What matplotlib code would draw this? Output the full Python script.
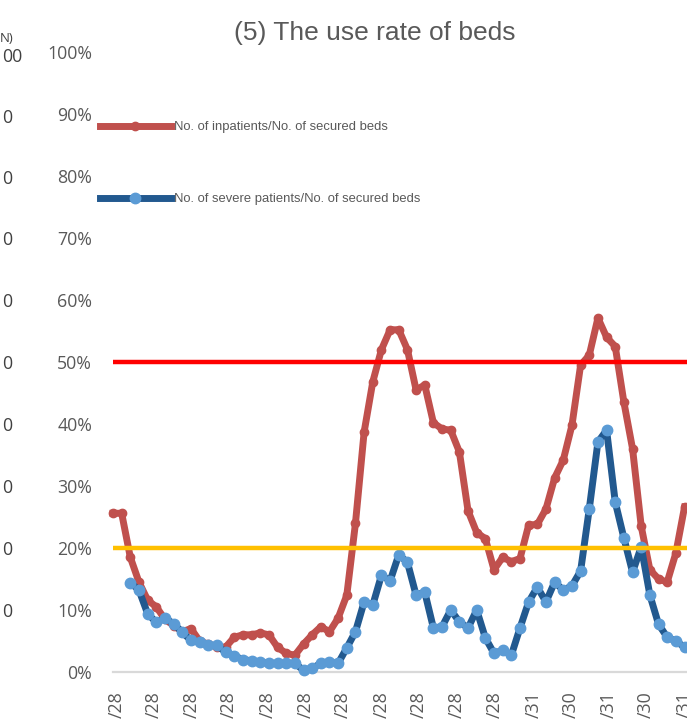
import matplotlib.pyplot as plt
import matplotlib.ticker as mticker
import numpy as np
import pandas as pd

# weekly values, % of secured beds
weeks = pd.date_range('2020-04-25', periods=67, freq='7D')
inpatients = [
    25.6, 25.6, 18.5, 14.5, 11.6, 10.5, 8.5, 7.5, 6.5, 7.0,
    5.0, 4.5, 4.0, 4.0, 5.6, 6.0, 6.0, 6.3, 6.0, 4.0,
    3.0, 2.7, 4.5, 6.0, 7.3, 6.5, 8.7, 12.4, 24.0, 38.7,
    46.8, 52.0, 55.2, 55.2, 52.0, 45.5, 46.3, 40.2, 39.2, 39.0,
    35.5, 26.0, 22.5, 21.5, 16.5, 18.5, 17.8, 18.3, 23.7, 23.8,
    26.3, 31.3, 34.2, 39.8, 49.5, 51.1, 57.1, 54.0, 52.5, 43.5,
    36.0, 23.5, 16.5, 15.0, 14.5, 19.2, 26.6,
]
severe = [
    np.nan, np.nan, 14.4, 13.2, 9.4, 8.0, 8.7, 7.8, 6.4, 5.1,
    4.8, 4.3, 4.3, 3.2, 2.6, 2.0, 1.8, 1.6, 1.4, 1.4,
    1.4, 1.4, 0.3, 0.6, 1.4, 1.6, 1.4, 3.9, 6.5, 11.3,
    10.8, 15.6, 14.7, 18.9, 17.7, 12.4, 12.9, 7.1, 7.3, 10.0,
    8.1, 7.1, 10.0, 5.5, 3.0, 3.5, 2.7, 7.1, 11.3, 13.7,
    11.3, 14.5, 13.2, 13.9, 16.3, 26.3, 37.1, 39.0, 27.4, 21.6,
    16.1, 20.2, 12.4, 7.7, 5.6, 5.0, 4.0,
]
tick_dates = pd.to_datetime([
    '2020-04-28', '2020-05-28', '2020-06-28', '2020-07-28', '2020-08-28',
    '2020-09-28', '2020-10-28', '2020-11-28', '2020-12-28', '2021-01-28',
    '2021-02-28', '2021-03-31', '2021-04-30', '2021-05-31', '2021-06-30',
    '2021-07-31',
])
tick_labels = ['/28'] * 11 + ['/31', '/30', '/31', '/30', '/31']
thresholds = [50, 20]
threshold_colors = ['#FF0000', '#FFC000']

# fragments of the neighbouring panel cut by the screenshot
left_frag = ['00'] + ['0'] * 9

W, H = 687, 721
fig = plt.figure(figsize=(W / 100, H / 100), dpi=100)
ax = fig.add_axes([113 / W, (H - 672) / H, (W - 113) / W, 620 / H])

inp = np.array(inpatients) / 100
sev = np.array(severe) / 100

l1, = ax.plot(weeks, inp, color='#C0504D', lw=5, marker='o', ms=6,
              mec='#C0504D', mfc='#C0504D', clip_on=False, zorder=3,
              solid_joinstyle='round')
l2, = ax.plot(weeks, sev, color='#22598F', lw=5, marker='o', ms=7.5,
              mec='#5B9BD5', mfc='#5B9BD5', clip_on=False, zorder=4,
              solid_joinstyle='round')
for t, c in zip(thresholds, threshold_colors):
    ax.axhline(t / 100, color=c, lw=3.2, zorder=5)

ax.set_xlim(weeks[0], weeks[0] + pd.Timedelta(days=464))
ax.set_ylim(0, 1.0)
ax.set_yticks(np.arange(0, 1.01, 0.1))
ax.yaxis.set_major_formatter(mticker.PercentFormatter(1.0, decimals=0))
ax.set_xticks(tick_dates)
ax.set_xticklabels(tick_labels, rotation=90, va='top', ha='center')

for s in ['top', 'right', 'left']:
    ax.spines[s].set_visible(False)
ax.spines['bottom'].set_color('#D9D9D9')
ax.spines['bottom'].set_linewidth(1.6)
ax.tick_params(axis='both', length=0, labelcolor='#595959', labelsize=12.8,
               labelfontfamily='Open Sans')
ax.tick_params(axis='y', pad=15)
ax.tick_params(axis='x', pad=14)

fig.text(375 / W, 1 - 33 / H, '(5) The use rate of beds', ha='center',
         va='center', fontsize=19, color='#595959', family='Liberation Sans')

fig.legend([l1, l2],
           ['No. of inpatients/No. of secured beds',
            'No. of severe patients/No. of secured beds'],
           loc='upper left', bbox_to_anchor=(100 / W, 1 - 121 / H),
           frameon=False, numpoints=1, handlelength=5.4, handletextpad=0.3,
           labelspacing=4.6, borderpad=0, borderaxespad=0,
           prop={'family': 'Liberation Sans', 'size': 9.4}, labelcolor='#595959')

fig.text(0, 1 - 38 / H, 'N)', ha='left', va='center', fontsize=9.5,
         color='#404040', family='Open Sans')
frag_y = [57, 118, 179, 240, 302, 364, 426, 488, 550, 612]
for s, y in zip(left_frag, frag_y):
    fig.text(2 / W, 1 - y / H, s, ha='left', va='center', fontsize=12.8,
             color='#404040', family='Open Sans')

fig.savefig('out.png', dpi=100)
